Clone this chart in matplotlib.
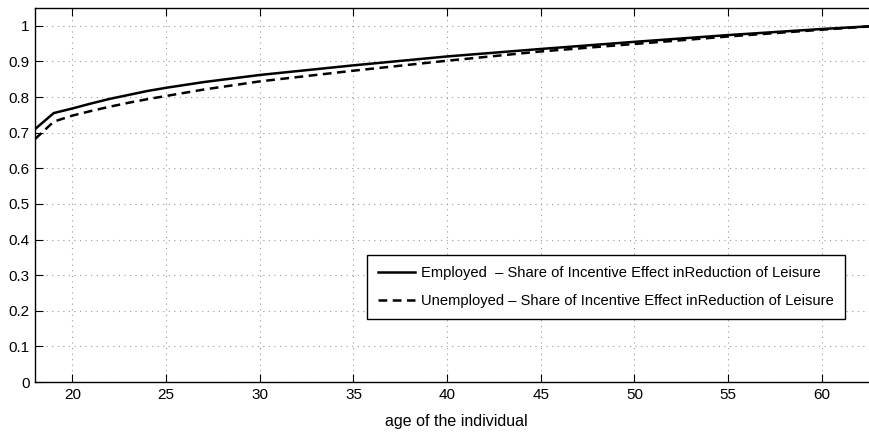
import matplotlib
matplotlib.use("Agg")
import matplotlib.pyplot as plt

ages = [18, 19, 20, 21, 22, 23, 24, 25, 27, 30, 35, 40, 45, 50, 55, 60, 63]
employed = [0.710, 0.755, 0.768, 0.782, 0.795, 0.806, 0.817, 0.826, 0.842, 0.862, 0.889, 0.914, 0.935, 0.955, 0.974, 0.991, 1.0]
unemployed = [0.682, 0.731, 0.748, 0.761, 0.773, 0.784, 0.794, 0.803, 0.821, 0.844, 0.874, 0.902, 0.928, 0.949, 0.970, 0.989, 1.0]
label_emp = "Employed  \u2013 Share of Incentive Effect inReduction of Leisure"
label_unemp = "Unemployed \u2013 Share of Incentive Effect inReduction of Leisure"
xticks = [20, 25, 30, 35, 40, 45, 50, 55, 60]
yticks = [0, 0.1, 0.2, 0.3, 0.4, 0.5, 0.6, 0.7, 0.8, 0.9, 1]
yticklabels = ["0", "0.1", "0.2", "0.3", "0.4", "0.5", "0.6", "0.7", "0.8", "0.9", "1"]

plt.rcParams['font.family'] = ['Liberation Sans', 'DejaVu Sans']
fig = plt.figure(figsize=(8.7, 4.36), dpi=100)
ax = fig.add_axes([35/870, 54/436, 843/870, 374/436])

ax.plot(ages, employed, color='black', lw=1.8, label=label_emp)
ax.plot(ages, unemployed, color='black', lw=1.8, ls=(0, (3.5, 2.2)), label=label_unemp)

ax.set_xlim(18, 63)
ax.set_ylim(0, 1.05)
ax.set_xticks(xticks)
ax.set_yticks(yticks)
ax.set_yticklabels(yticklabels)
ax.tick_params(direction='in', top=True, right=True, labelsize=11, length=6, width=0.8, pad=4)
ax.grid(True, color='#999999', ls=(0, (1, 4)), lw=0.8)
for s in ax.spines.values():
    s.set_linewidth(1.0)

ax.set_xlabel("age of the individual", fontsize=11.5, labelpad=9)
leg = ax.legend(loc='upper right', bbox_to_anchor=(0.961, 0.34), fontsize=10.6,
                frameon=True, fancybox=False, edgecolor='black', framealpha=1,
                handlelength=2.5, borderpad=0.75, labelspacing=0.95, handletextpad=0.45,
                borderaxespad=0)
leg.get_frame().set_linewidth(1.0)

fig.savefig("out.png", dpi=100)
